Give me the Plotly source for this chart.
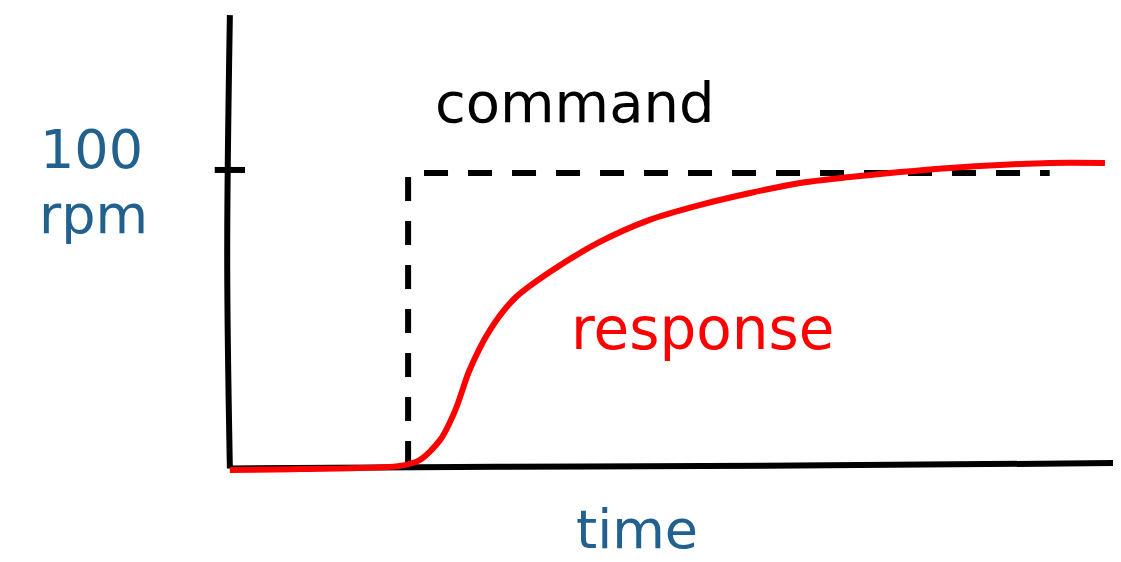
import plotly.graph_objects as go

# time axis (arbitrary units) and rpm
resp_t = [0.0, 0.79, 1.91, 2.13, 2.36, 2.53, 2.69, 2.92, 3.20, 3.59, 4.15, 4.71,
          5.27, 5.84, 6.40, 6.96, 7.52, 8.08, 8.64, 9.20, 9.82]
resp_rpm = [-1.7, -1.4, -0.3, 1.7, 8.5, 18.6, 32.2, 45.8, 56.6, 65.4, 75.6, 83.1,
            88.1, 92.2, 95.6, 97.6, 99.3, 100.7, 101.7, 102.4, 102.4]

cmd_t = [2.0, 2.0, 9.2]
cmd_rpm = [0.0, 99.0, 99.0]

xaxis_t = [0.0, 3.0, 6.0, 10.2]
xaxis_rpm = [-1.2, -0.6, -0.3, 0.7]
yaxis_t = [0.0, -0.03, 0.0]
yaxis_rpm = [-1.2, 70.0, 152.5]
tick_t = [-0.17, 0.17]
tick_rpm = [100.0, 100.0]

ylabel_value = "100"
ylabel_unit = "rpm"
xlabel = "time"

BLUE = "#22618e"
FONT = "DejaVu Sans"

fig = go.Figure()
fig.add_trace(go.Scatter(x=xaxis_t, y=xaxis_rpm, mode="lines",
                         line=dict(color="black", width=6, shape="spline")))
fig.add_trace(go.Scatter(x=yaxis_t, y=yaxis_rpm, mode="lines",
                         line=dict(color="black", width=6, shape="spline")))
fig.add_trace(go.Scatter(x=tick_t, y=tick_rpm, mode="lines",
                         line=dict(color="black", width=6)))
fig.add_trace(go.Scatter(x=cmd_t, y=cmd_rpm, mode="lines",
                         line=dict(color="black", width=6, dash="24px,20px")))
fig.add_trace(go.Scatter(x=resp_t, y=resp_rpm, mode="lines",
                         line=dict(color="#ff0000", width=6, shape="spline", smoothing=0.8)))

fig.add_annotation(x=3.87, y=123, text="command", showarrow=False,
                   font=dict(family=FONT, size=56, color="black"))
fig.add_annotation(x=5.30, y=46, text="response", showarrow=False,
                   font=dict(family=FONT, size=58, color="#ff0000"))
fig.add_annotation(x=4.57, y=-22, text=xlabel, showarrow=False,
                   font=dict(family=FONT, size=54, color=BLUE))
fig.add_annotation(x=-1.55, y=107, text=ylabel_value, showarrow=False,
                   font=dict(family=FONT, size=54, color=BLUE))
fig.add_annotation(x=-1.53, y=85, text=ylabel_unit, showarrow=False,
                   font=dict(family=FONT, size=54, color=BLUE))

fig.update_layout(
    width=1121, height=562,
    margin=dict(l=0, r=0, t=0, b=0),
    paper_bgcolor="white", plot_bgcolor="white",
    showlegend=False,
    xaxis=dict(range=[-2.49, 10.09], visible=False, fixedrange=True),
    yaxis=dict(range=[-35.6, 154.9], visible=False, fixedrange=True),
)
fig.write_html("out.html")
